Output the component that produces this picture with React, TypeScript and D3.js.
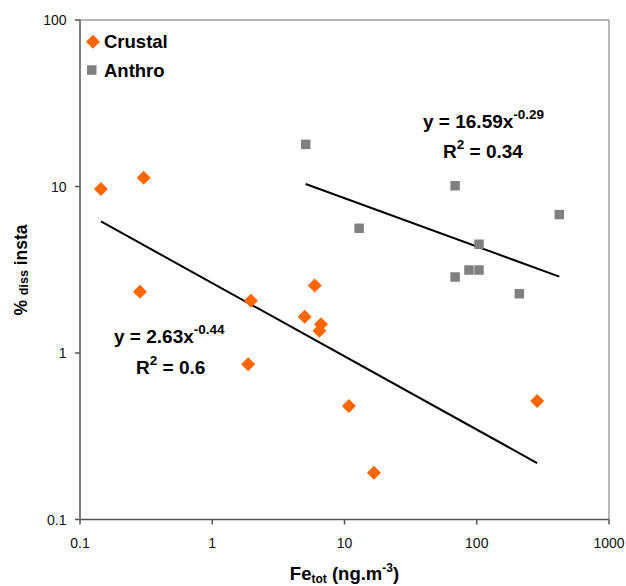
import React from "react";
import * as d3 from "d3";

const crustalX = [0.144, 0.303, 0.284, 1.96, 5.96, 5.0, 6.64, 6.46, 1.87, 10.8, 16.7, 286];
const crustalY = [9.66, 11.3, 2.33, 2.06, 2.54, 1.65, 1.49, 1.36, 0.855, 0.481, 0.191, 0.515];
const anthroX = [5.09, 68.6, 12.9, 421, 104, 68.6, 87.3, 104, 210];
const anthroY = [17.9, 10.1, 5.61, 6.78, 4.5, 2.86, 3.15, 3.15, 2.27];
const crustalFit = { a: 2.63, b: -0.44, r2: "0.6" };
const anthroFit = { a: 16.59, b: -0.29, r2: "0.34" };
const xTicks = [0.1, 1, 10, 100, 1000];
const yTicks = [0.1, 1, 10, 100];
const xTickLabels = ["0.1", "1", "10", "100", "1000"];
const yTickLabels = ["0.1", "1", "10", "100"];

const W = 626, H = 586;
const L = 80, R = 609, T = 20, B = 519.5;
const ORANGE = "#FF6600";
const GRAY = "#808080";
const FONT = "'Liberation Sans', Arial, sans-serif";

export default function App() {
  const x = d3.scaleLog().domain([0.1, 1000]).range([L, R]);
  const y = d3.scaleLog().domain([0.1, 100]).range([B, T]);
  const line = d3.line<[number, number]>().x((d) => x(d[0])).y((d) => y(d[1]));
  const fitLine = (xs: number[], f: { a: number; b: number }) => {
    const lo = d3.min(xs)!, hi = d3.max(xs)!;
    return line([lo, hi].map((v) => [v, f.a * Math.pow(v, f.b)] as [number, number]))!;
  };
  const diamond = (cx: number, cy: number, r = 7) =>
    `M${cx},${cy - r}L${cx + r},${cy}L${cx},${cy + r}L${cx - r},${cy}Z`;

  const EQ = 19, SUP = 13.5;

  return (
    <svg width={W} height={H} style={{ position: "absolute", left: 0, top: 0, background: "#fff" }} fontFamily={FONT}>
      <rect x={0} y={0} width={W} height={H} fill="#fff" />
      {/* border */}
      <line x1={L} y1={T} x2={R} y2={T} stroke="#a0a0a0" strokeWidth={1.5} />
      <line x1={R} y1={T} x2={R} y2={B} stroke="#a0a0a0" strokeWidth={1.5} />
      <line x1={L} y1={T} x2={L} y2={B} stroke="#555" strokeWidth={1.5} />
      <line x1={L} y1={B} x2={R} y2={B} stroke="#555" strokeWidth={1.5} />
      {yTicks.map((t, i) => (
        <g key={"y" + i}>
          <line x1={L - 5} x2={L} y1={y(t)} y2={y(t)} stroke="#555" strokeWidth={1.5} />
          <text x={L - 13.5} y={y(t) + 5} textAnchor="end" fontSize={14} fill="#111">
            {yTickLabels[i]}
          </text>
        </g>
      ))}
      {xTicks.map((t, i) => (
        <g key={"x" + i}>
          <line x1={x(t)} x2={x(t)} y1={B} y2={B + 5} stroke="#555" strokeWidth={1.5} />
          <text x={x(t)} y={547.5} textAnchor="middle" fontSize={14} fill="#111">
            {xTickLabels[i]}
          </text>
        </g>
      ))}
      {/* trend lines */}
      <path d={fitLine(crustalX, crustalFit)} stroke="#000" strokeWidth={2} fill="none" />
      <path d={fitLine(anthroX, anthroFit)} stroke="#000" strokeWidth={2} fill="none" />
      {/* points */}
      {anthroX.map((v, i) => (
        <rect key={"a" + i} x={x(v) - 4.75} y={y(anthroY[i]) - 4.75} width={9.5} height={9.5} fill={GRAY} />
      ))}
      {crustalX.map((v, i) => (
        <path key={"c" + i} d={diamond(x(v), y(crustalY[i]))} fill={ORANGE} />
      ))}
      {/* legend */}
      <path d={diamond(93, 41.7)} fill={ORANGE} />
      <text x={104} y={47.5} fontSize={18.5} fontWeight="bold" fill="#000">Crustal</text>
      <rect x={87} y={65.3} width={9.5} height={9.5} fill={GRAY} />
      <text x={104} y={76.5} fontSize={18.5} fontWeight="bold" fill="#000">Anthro</text>
      {/* equations */}
      <text x={423} y={127.7} fontSize={EQ} fontWeight="bold" fill="#000">
        {`y = ${anthroFit.a}x`}
        <tspan fontSize={SUP} dy={-9}>{anthroFit.b.toFixed(2)}</tspan>
      </text>
      <text x={443} y={158.3} fontSize={EQ} fontWeight="bold" fill="#000">
        R<tspan fontSize={SUP} dy={-9}>2</tspan>
        <tspan dy={9}>{` = ${anthroFit.r2}`}</tspan>
      </text>
      <text x={114} y={342.7} fontSize={EQ} fontWeight="bold" fill="#000">
        {`y = ${crustalFit.a}x`}
        <tspan fontSize={SUP} dy={-9}>{crustalFit.b.toFixed(2)}</tspan>
      </text>
      <text x={136} y={374} fontSize={EQ} fontWeight="bold" fill="#000">
        R<tspan fontSize={SUP} dy={-9}>2</tspan>
        <tspan dy={9}>{` = ${crustalFit.r2}`}</tspan>
      </text>
      {/* axis titles */}
      <text x={344.5} y={580} textAnchor="middle" fontSize={18.5} fontWeight="bold" fill="#000">
        Fe<tspan fontSize={12} dy={2.5}>tot</tspan>
        <tspan dy={-2.5}> (ng.m</tspan>
        <tspan fontSize={12} dy={-8}>-3</tspan>
        <tspan dy={8}>)</tspan>
      </text>
      <text transform={`translate(26.5,270) rotate(-90)`} textAnchor="middle" fontSize={17.5} fontWeight="bold" fill="#000">
        {"% "}
        <tspan fontSize={12.5} dy={1}>diss</tspan>
        <tspan dy={-1}> insta</tspan>
      </text>
    </svg>
  );
}
